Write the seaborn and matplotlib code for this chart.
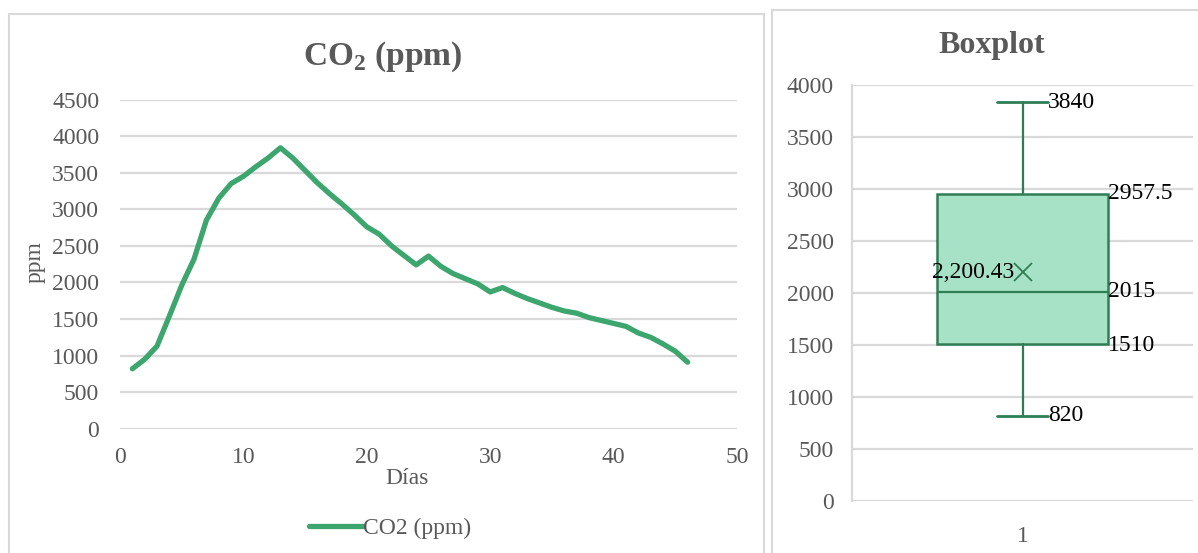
import numpy as np
import pandas as pd
import matplotlib
matplotlib.use("Agg")
import matplotlib.pyplot as plt
import seaborn as sns
from matplotlib.patches import Rectangle

# ---- data ----
dias = list(range(1, 47))
co2_ppm = [820, 950, 1130, 1540, 1960, 2320, 2850, 3150, 3350, 3450,
           3580, 3700, 3840, 3700, 3530, 3360, 3210, 3070, 2920, 2760,
           2660, 2500, 2370, 2240, 2360, 2220, 2120, 2050, 1980, 1870,
           1930, 1850, 1780, 1720, 1660, 1610, 1580, 1520, 1480, 1440,
           1400, 1310, 1250, 1160, 1060, 910]
series_name = "CO2 (ppm)"
left_title = "CO$_{\\mathbf{2}}$ (ppm)"
right_title = "Boxplot"
box_category = "1"
left_yticks = list(range(0, 4501, 500))
left_xticks = list(range(0, 51, 10))
right_yticks = list(range(0, 4001, 500))

sns.set_theme(style="white")
plt.rcParams['font.family'] = ['Liberation Serif', 'DejaVu Serif']
plt.rcParams['mathtext.fontset'] = 'custom'
plt.rcParams['mathtext.rm'] = 'Liberation Serif'
plt.rcParams['mathtext.bf'] = 'Liberation Serif:bold'

GRAY = '#595959'
GRID = '#D9D9D9'
LINE_GREEN = '#3CA66E'
EDGE_GREEN = '#2E7D55'
FILL_GREEN = '#A8E2C6'

W, H = 1198, 553
fig = plt.figure(figsize=(W / 100, H / 100), dpi=100)
fig.patch.set_facecolor('white')

# panel borders
fig.add_artist(Rectangle((9 / W, -0.05), (764 - 9) / W, 1.05 - 14 / H,
                         transform=fig.transFigure, fill=False,
                         edgecolor=GRID, linewidth=1.5))
fig.add_artist(Rectangle((772 / W, -0.05), 0.5, 1.05 - 10 / H,
                         transform=fig.transFigure, fill=False,
                         edgecolor=GRID, linewidth=1.5))

# ---- left: line chart ----
axL = fig.add_axes([120 / W, 1 - 428.8 / H, 617 / W, (428.8 - 99.5) / H])
df = pd.DataFrame({"Días": dias, "ppm": co2_ppm})
sns.lineplot(data=df, x="Días", y="ppm", ax=axL, color=LINE_GREEN,
             linewidth=3.8, solid_joinstyle='round', solid_capstyle='round',
             label=series_name)
axL.set_xlim(0, 50)
axL.set_ylim(0, 4500)
axL.set_xticks(left_xticks)
axL.set_yticks(left_yticks)
axL.yaxis.grid(True, color=GRID, linewidth=1.6)
axL.set_axisbelow(True)
for s in axL.spines.values():
    s.set_visible(False)
axL.tick_params(axis='both', length=0, labelsize=17, labelcolor=GRAY)
axL.tick_params(axis='y', pad=15)
axL.tick_params(axis='x', pad=13)
axL.set_xlabel("")
axL.set_ylabel("")
axL.text((407 - 120) / 617, -(478 - 428.8) / 329.3, "Días", transform=axL.transAxes,
         ha='center', va='center', fontsize=17, color=GRAY)
axL.text((35 - 120) / 617, (428.8 - 262) / 329.3, "ppm", transform=axL.transAxes,
         ha='center', va='center', fontsize=17, color=GRAY, rotation=90)
fig.text(383 / W, 1 - 57 / H, left_title, ha='center', va='center',
         fontsize=24, fontweight='bold', color=GRAY)
leg = axL.legend(loc='center', bbox_to_anchor=(390 / W, 1 - 528 / H),
                 bbox_transform=fig.transFigure, frameon=False, fontsize=17,
                 handlelength=2.3, handletextpad=0.0, labelcolor=GRAY)
for h in leg.get_lines():
    h.set_linewidth(3.8)
    h.set_solid_capstyle('round')

# ---- right: boxplot ----
axR = fig.add_axes([852 / W, 1 - 500.9 / H, 341 / W, (500.9 - 85.4) / H])
vals = np.array(co2_ppm, dtype=float)
q1, med, q3 = np.percentile(vals, [25, 50, 75], method='weibull')
mean_v = vals.mean()
stats = [dict(label=box_category, q1=q1, med=med, q3=q3,
              whislo=vals.min(), whishi=vals.max(), mean=mean_v, fliers=[])]
axR.bxp(stats, positions=[1], widths=0.5, capwidths=0.147, patch_artist=True,
        showmeans=True, showfliers=False,
        boxprops=dict(facecolor=FILL_GREEN, edgecolor=EDGE_GREEN, linewidth=1.8),
        medianprops=dict(color=EDGE_GREEN, linewidth=1.6),
        whiskerprops=dict(color=EDGE_GREEN, linewidth=1.6),
        capprops=dict(color=EDGE_GREEN, linewidth=2),
        meanprops=dict(marker='x', markeredgecolor=EDGE_GREEN, markersize=13,
                       markeredgewidth=1.3))
axR.set_xlim(0.5, 1.5)
axR.set_ylim(0, 4000)
axR.set_yticks(right_yticks)
axR.yaxis.grid(True, color=GRID, linewidth=1.6)
axR.set_axisbelow(True)
for k, s in axR.spines.items():
    s.set_visible(k == 'left')
axR.spines['left'].set_color(GRID)
axR.spines['left'].set_linewidth(1.6)
axR.tick_params(axis='both', length=0, labelsize=17, labelcolor=GRAY)
axR.tick_params(axis='y', pad=13)
axR.tick_params(axis='x', pad=18)
fig.text(992 / W, 1 - 46 / H, right_title, ha='center', va='center',
         fontsize=23, fontweight='bold', color=GRAY)

def fmt(v):
    return f"{v:g}"

box_x = 1.25
axR.text(1.075, vals.max(), fmt(vals.max()), ha='left', va='center', fontsize=17, color='black')
axR.text(1.075, vals.min(), fmt(vals.min()), ha='left', va='center', fontsize=17, color='black')
axR.text(box_x, q3, fmt(q3), ha='left', va='center', fontsize=17, color='black')
axR.text(box_x, med, fmt(med), ha='left', va='center', fontsize=17, color='black')
axR.text(box_x, q1 - 15, fmt(q1), ha='left', va='center', fontsize=17, color='black')
axR.text(0.975, mean_v, f"{mean_v:,.2f}", ha='right', va='center', fontsize=17, color='black')

fig.savefig("out.png", dpi=100)
